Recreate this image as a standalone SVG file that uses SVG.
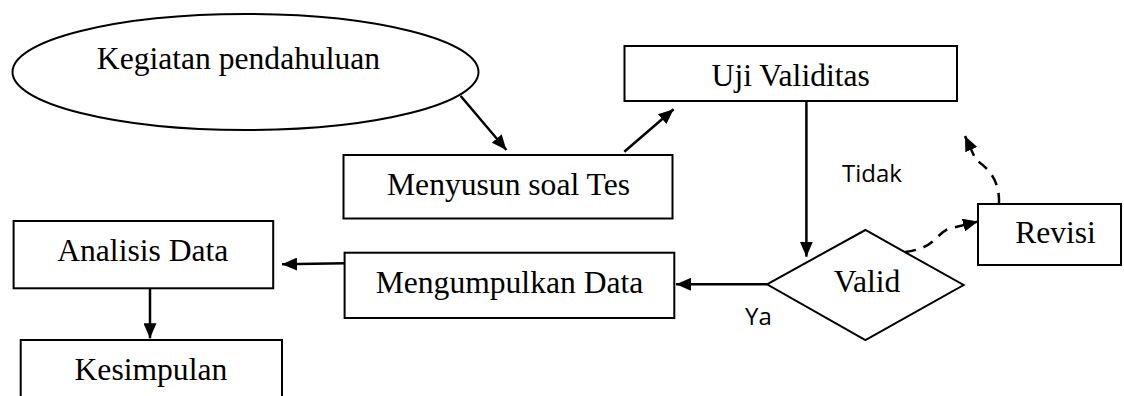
<svg xmlns="http://www.w3.org/2000/svg" width="1124" height="396" viewBox="0 0 1124 396">
<style>
.box{fill:#fff;stroke:#000;stroke-width:2}
.t{font-family:"Liberation Serif","Times New Roman",serif;font-size:31.6px;fill:#000;text-anchor:middle}
.s{font-family:"Open Sans","Liberation Sans",sans-serif;font-size:24px;fill:#000}
.c{fill:none;stroke:#000;stroke-width:2.5}
.d{fill:none;stroke:#000;stroke-width:2.5;stroke-dasharray:11 8}
</style>
<defs>
<marker id="ah" viewBox="0 0 15 13" refX="15" refY="6.5" markerWidth="15" markerHeight="13" markerUnits="userSpaceOnUse" orient="auto">
<path d="M0,0 L15,6.5 L0,13 Z" fill="#000"/>
</marker>
</defs>
<rect width="1124" height="396" fill="#fff"/>
<g id="kegiatan">
<ellipse class="box" cx="245.5" cy="72" rx="233" ry="58"/>
<text class="t" x="238.5" y="68.5">Kegiatan pendahuluan</text>
</g>
<g id="menyusun">
<rect class="box" x="343.5" y="155" width="329" height="63.5"/>
<text class="t" x="508.5" y="195">Menyusun soal Tes</text>
</g>
<g id="uji">
<rect class="box" x="624.5" y="46" width="332.5" height="55"/>
<text class="t" x="790.7" y="85.5">Uji Validitas</text>
</g>
<g id="valid">
<polygon class="box" points="767,284.3 865.4,230 963.6,285 865.4,340"/>
<text class="t" x="867" y="292">Valid</text>
</g>
<g id="revisi">
<rect class="box" x="978" y="204" width="143" height="61"/>
<text class="t" x="1055.5" y="243.3">Revisi</text>
</g>
<g id="mengumpulkan">
<rect class="box" x="344.6" y="252.7" width="329.7" height="65.3"/>
<text class="t" x="509.5" y="292.5">Mengumpulkan Data</text>
</g>
<g id="analisis">
<rect class="box" x="13.6" y="221" width="259.6" height="67.3"/>
<text class="t" x="142.8" y="260.7">Analisis Data</text>
</g>
<g id="kesimpulan">
<rect class="box" x="20.7" y="340" width="261.3" height="70"/>
<text class="t" x="150.9" y="380">Kesimpulan</text>
</g>
<g id="connectors">
<line class="c" x1="460.7" y1="96" x2="506.4" y2="150" marker-end="url(#ah)"/>
<line class="c" x1="624.3" y1="151.7" x2="673.6" y2="109.3" marker-end="url(#ah)"/>
<line class="c" x1="806.4" y1="101" x2="806.4" y2="256.7" marker-end="url(#ah)"/>
<line class="c" x1="767" y1="284.3" x2="676" y2="284.3" marker-end="url(#ah)"/>
<line class="c" x1="344.6" y1="263.3" x2="282" y2="264.3" marker-end="url(#ah)"/>
<line class="c" x1="150" y1="288.3" x2="150" y2="338.3" marker-end="url(#ah)"/>
<path class="d" d="M905,252 C935,248 934,236 948,229 L978,221.5" marker-end="url(#ah)"/>
<path class="d" d="M999,204 C1000,180 988,168 976,160 L965,136" marker-end="url(#ah)"/>
<text class="s" x="842" y="182">Tidak</text>
<text class="s" x="745" y="325">Ya</text>
</g>
</svg>
